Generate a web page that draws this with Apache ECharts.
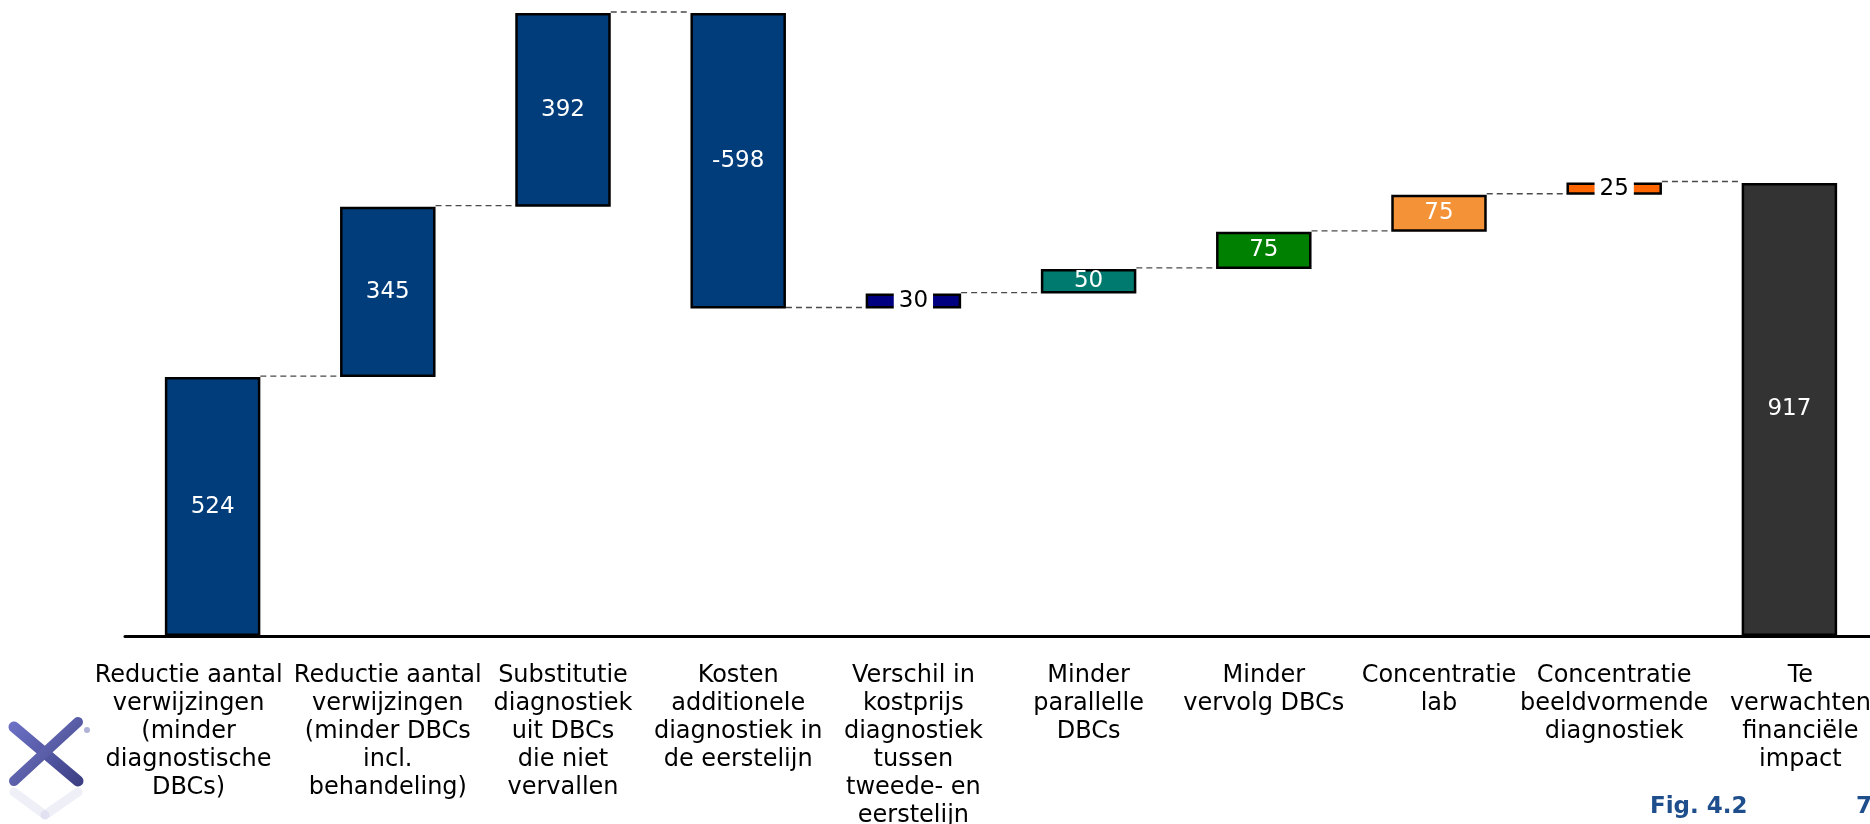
<!DOCTYPE html>
<html>
<head>
<meta charset="utf-8">
<script src="https://cdn.jsdelivr.net/npm/echarts@6/dist/echarts.min.js"></script>
<style>
html,body{margin:0;padding:0;background:#fff;}
#c{width:1870px;height:824px;}
</style>
</head>
<body>
<div id="c"></div>
<script>
const categories = [
  "Reductie aantal\nverwijzingen\n(minder\ndiagnostische\nDBCs)",
  "Reductie aantal\nverwijzingen\n(minder DBCs\nincl.\nbehandeling)",
  "Substitutie\ndiagnostiek\nuit DBCs\ndie niet\nvervallen",
  "Kosten\nadditionele\ndiagnostiek in\nde eerstelijn",
  "Verschil in\nkostprijs\ndiagnostiek\ntussen\ntweede- en\neerstelijn",
  "Minder\nparallelle\nDBCs",
  "Minder\nvervolg DBCs",
  "Concentratie\nlab",
  "Concentratie\nbeeldvormende\ndiagnostiek",
  "Te\nverwachten\nfinanciële\nimpact"
];
const values = [524, 345, 392, -598, 30, 50, 75, 75, 25];
const totalValue = 917;
const barColors = ["#003D7A","#003D7A","#003D7A","#003D7A","#000080","#007A6E","#008000","#F39237","#FF6600","#333333"];

// waterfall computation
const bases = [], heights = [], connectorLevels = [];
let cum = 0;
values.forEach(v => {
  const next = cum + v;
  bases.push(Math.min(cum, next));
  heights.push(Math.abs(v));
  connectorLevels.push(next);
  cum = next;
});
bases.push(0); heights.push(totalValue);
const labelValues = values.concat([totalValue]);

const chart = echarts.init(document.getElementById('c'));
const FONT = 'DejaVu Sans';

const catData = categories.map((c, i) => {
  const o = { value: c };
  if (i === 0) o.textStyle = { padding: [0, 48, 0, 0] };
  if (i === categories.length - 1) o.textStyle = { padding: [0, 0, 0, 22] };
  return o;
});

const smallIdx = [4, 8];

chart.setOption({
  animation: false,
  grid: { left: 125, top: 13, width: 1752, bottom: 188, containLabel: false, outerBoundsMode: 'none' },
  xAxis: {
    type: 'category',
    data: catData,
    axisLine: { lineStyle: { color: '#000', width: 3 } },
    axisTick: { show: false },
    axisLabel: {
      interval: 0, color: '#000', fontFamily: FONT, fontSize: 24,
      lineHeight: 28, margin: 26, align: 'center', hideOverlap: false
    }
  },
  yAxis: { type: 'value', min: 0, max: 1261, show: false, splitLine: { show: false } },
  series: [
    {
      type: 'bar', stack: 'w', barWidth: '54.5%',
      itemStyle: { color: 'transparent' },
      data: bases, silent: true
    },
    {
      type: 'bar', stack: 'w', barWidth: '54.5%',
      data: heights.map((h, i) => ({
        value: h,
        itemStyle: { color: barColors[i], borderColor: '#000', borderWidth: 2.5 },
        label: smallIdx.includes(i) ? {
          color: '#000', backgroundColor: '#fff', padding: [0, 5]
        } : {}
      })),
      label: {
        show: true, position: 'inside', color: '#fff', fontFamily: FONT, fontSize: 23,
        formatter: p => String(labelValues[p.dataIndex])
      }
    },
    {
      type: 'custom',
      data: connectorLevels.map((l, i) => [i, l]),
      z: 1,
      renderItem: function (params, api) {
        const i = api.value(0), lv = api.value(1);
        const a = api.coord([i, lv]);
        const b = api.coord([i + 1, lv]);
        const half = api.size([1, 0])[0] * 0.2725;
        return {
          type: 'line',
          shape: { x1: a[0] + half, y1: a[1] - 1, x2: b[0] - half, y2: b[1] - 1 },
          style: { stroke: '#4a4a4a', lineWidth: 1.4, lineDash: [6, 4] }
        };
      }
    }
  ],
  graphic: [
    { type: 'text', left: 1650, top: 796, style: { text: 'Fig. 4.2', fill: '#1F4E8C', font: 'bold 23px "DejaVu Sans"' } },
    { type: 'text', left: 1856, top: 796, style: { text: '7', fill: '#1F4E8C', font: 'bold 23px "DejaVu Sans"' } },
    // logo
    { type: 'line', shape: { x1: 14, y1: 727, x2: 78, y2: 781 },
      style: { stroke: new echarts.graphic.LinearGradient(0,0,1,1,[{offset:0,color:'#6f73c8'},{offset:1,color:'#3a3d80'}]), lineWidth: 11, lineCap: 'round' } },
    { type: 'line', shape: { x1: 78, y1: 722, x2: 14, y2: 781 },
      style: { stroke: new echarts.graphic.LinearGradient(0,0,1,1,[{offset:0,color:'#7b80d0'},{offset:1,color:'#3a3d80'}]), lineWidth: 10, lineCap: 'round' } },
    { type: 'circle', shape: { cx: 87, cy: 730, r: 3 }, style: { fill: '#b0b2d8' } },
    { type: 'line', shape: { x1: 14, y1: 792, x2: 45, y2: 815 }, style: { stroke: 'rgba(120,125,200,0.12)', lineWidth: 9, lineCap: 'round' } },
    { type: 'line', shape: { x1: 78, y1: 792, x2: 45, y2: 815 }, style: { stroke: 'rgba(120,125,200,0.12)', lineWidth: 9, lineCap: 'round' } }
  ]
});
</script>
</body>
</html>
